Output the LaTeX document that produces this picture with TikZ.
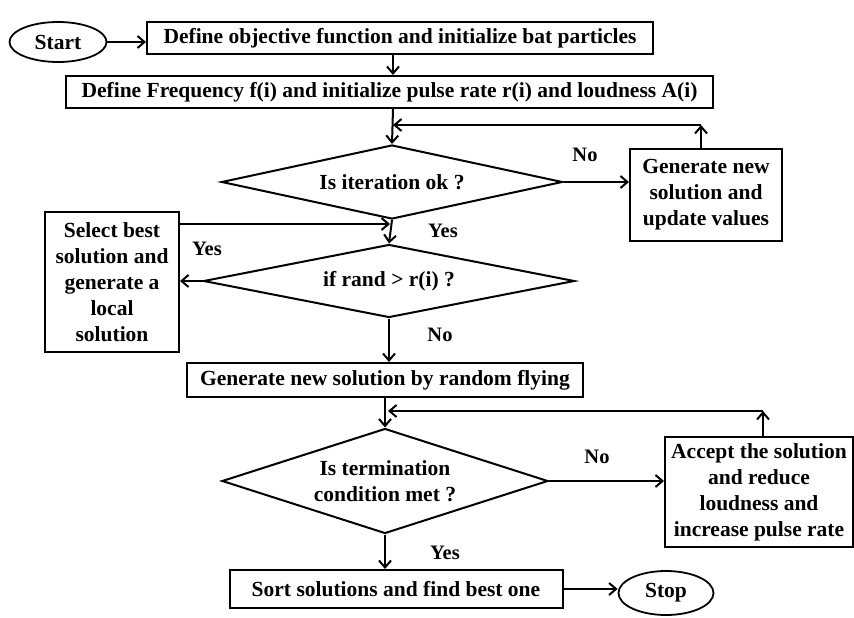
\documentclass[tikz,border=0pt]{standalone}
\usepackage{fontspec}
\setmainfont{Liberation Serif}
\usetikzlibrary{shapes.geometric,arrows.meta}
\begin{document}
\begin{tikzpicture}[x=1pt,y=-1pt,
  every node/.style={font=\fontsize{21.5}{26}\selectfont\bfseries, inner sep=0pt},
  box/.style={draw, line width=2pt, align=center},
  term/.style={draw, ellipse, line width=1.8pt},
  dec/.style={draw, diamond, line width=2pt, align=center},
  lbl/.style={font=\fontsize{20.5}{24}\selectfont\bfseries},
  arr/.style={line width=2pt, -{Straight Barb[length=7pt,width=12pt,line width=2pt]}},
  ln/.style={line width=2pt}]
\useasboundingbox (0,0) rectangle (854,618);
\node[term, minimum width=97, minimum height=40] (start) at (58,42) {Start};
\node[box, minimum width=506, minimum height=32] (b1) at (400,38) {Define objective function and initialize bat particles};
\node[box, minimum width=647, minimum height=32] (b2) at (389.5,92) {Define Frequency f(i) and initialize pulse rate r(i) and loudness A(i)};
\node[dec, minimum width=341, minimum height=74, aspect=4.6] (d1) at (392,182) {Is iteration ok ?};
\node[box, minimum width=152, minimum height=92] (gen) at (706,195) {Generate new\\solution and\\update values};
\node[dec, minimum width=371, minimum height=73, aspect=5.08] (d2) at (389,281) {if rand > r(i) ?};
\node[box, minimum width=134, minimum height=140] (sel) at (112,282) {Select best\\solution and\\generate a\\local\\solution};
\node[box, minimum width=396, minimum height=34] (b3) at (385,380) {Generate new solution by random flying};
\node[dec, minimum width=326, minimum height=105, aspect=3.1] (d3) at (385,481) {Is termination\\condition met ?};
\node[box, minimum width=188, minimum height=110] (acc) at (759,492) {Accept the solution\\and reduce\\loudness and\\increase pulse rate};
\node[box, minimum width=333, minimum height=38] (sort) at (396,589) {Sort solutions and find best one};
\node[term, minimum width=95, minimum height=44] (stop) at (666,593) {Stop};
% labels
\node[lbl] (no1) at (585,155) {No};
\node[lbl] (yes1) at (443,231) {Yes};
\node[lbl] (yes2) at (207,249) {Yes};
\node[lbl] (no2) at (440,335) {No};
\node[lbl] (no3) at (597,457) {No};
\node[lbl] (yes3) at (445,553) {Yes};
% coordinates
\coordinate (c1) at (701,125);
\coordinate (c1l) at (393,125);
\coordinate (j1) at (390,224);
\coordinate (c2) at (763,411);
\coordinate (c2l) at (388,411);
% connectors
\draw[arr] (start) -- (b1.west |- start);
\draw[arr] (b1.south -| 393,0) -- (b2.north -| 393,0);
\draw[arr] (b2.south -| 393,0) -- (d1.north);
\draw[arr] (d1.east) -- (gen.west |- d1.east);
\draw[arr] (gen.north -| c1) -- (c1);
\draw[arr] (c1) -- (c1l);
\draw[arr] (d1.south) -- (d2.north);
\draw[arr] (sel.east |- j1) -- (j1);
\draw[arr] (d2.west) -- (sel.east |- d2.west);
\draw[arr] (d2.south) -- (b3.north -| d2.south);
\draw[arr] (b3.south -| d3.north) -- (d3.north);
\draw[arr] (d3.east) -- (acc.west |- d3.east);
\draw[arr] (acc.north -| c2) -- (c2);
\draw[arr] (c2) -- (c2l);
\draw[arr] (d3.south) -- (sort.north -| d3.south);
\draw[arr] (sort.east) -- (stop.west |- sort.east);
\end{tikzpicture}
\end{document}
